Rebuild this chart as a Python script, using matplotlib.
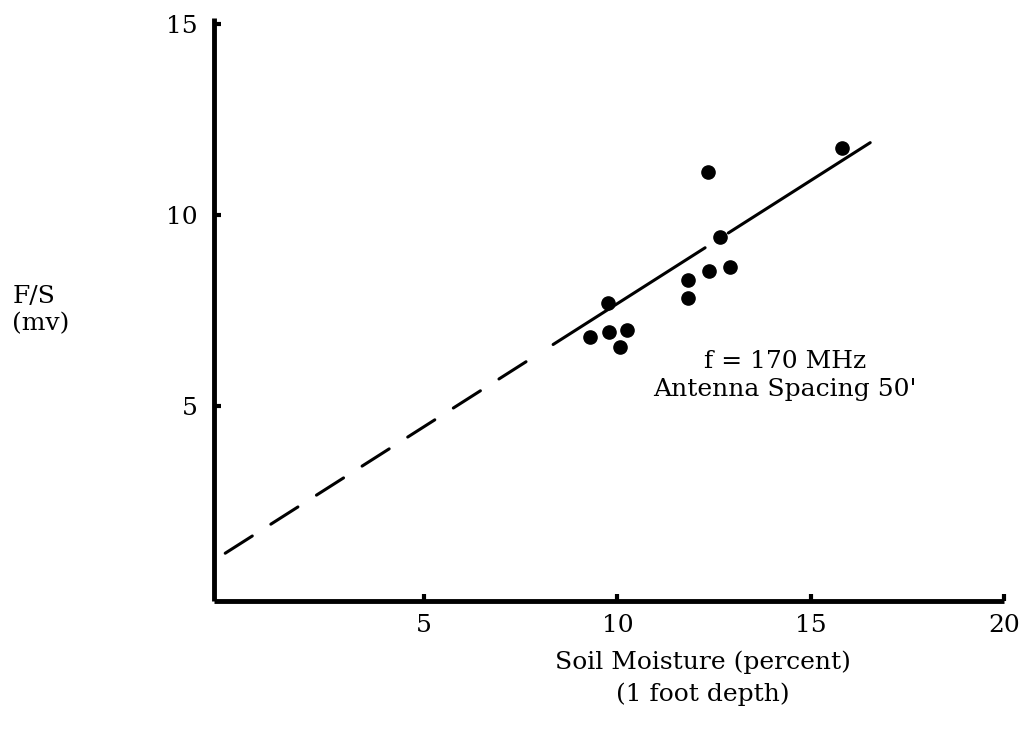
import numpy as np
import matplotlib
matplotlib.use("Agg")
import matplotlib.pyplot as plt

# soil moisture (percent) vs F/S (mv)
moisture = [9.29, 9.78, 10.24, 10.07, 9.76, 11.83, 11.82, 12.37, 12.91, 12.65, 12.35, 15.80]
fs_mv = [6.81, 6.95, 6.98, 6.54, 7.69, 8.30, 7.83, 8.52, 8.63, 9.43, 11.11, 11.76]

# fitted line, end points
fit_x = [-0.14, 16.54]
fit_y = [1.15, 11.89]
# where the line is extrapolated (dashed) and where it is drawn solid
dash_x = [-0.14, 7.84]
solid_parts = [[8.34, 12.27], [12.87, 16.54]]

x_ticks = [5, 10, 15, 20]
y_ticks = [5, 10, 15]

plt.rcParams['font.family'] = ['DejaVu Serif']

fig = plt.figure(figsize=(10.22, 7.3), dpi=100)
ax = fig.add_axes([0.2094, 0.1767, 0.7730, 0.7986])

# dashed extrapolation
ax.plot(dash_x, np.interp(dash_x, fit_x, fit_y), color='black', lw=2.2,
        dashes=(10.5, 7.2), solid_capstyle='round', dash_capstyle='round')
# solid part of the line
for part in solid_parts:
    ax.plot(part, np.interp(part, fit_x, fit_y), color='black', lw=2.2,
            solid_capstyle='round')

ax.plot(moisture, fs_mv, 'o', color='black', markersize=9.5)

ax.set_xlim(-0.43, 20)
ax.set_ylim(-0.1, 15.15)
ax.set_xticks(x_ticks)
ax.set_yticks(y_ticks)
ax.tick_params(direction='in', length=5, width=3, labelsize=18, pad=9)
ax.tick_params(axis='y', pad=12)

for side in ['top', 'right']:
    ax.spines[side].set_visible(False)
for side in ['left', 'bottom']:
    ax.spines[side].set_linewidth(3.5)
    ax.spines[side].set_capstyle('butt')

ax.text(14.33, 5.8, "f = 170 MHz\nAntenna Spacing 50'", ha='center', va='center',
        fontsize=18, linespacing=1.25)

fig.text(0.012, 0.575, "F/S\n(mv)", ha='left', va='center', fontsize=18,
         linespacing=1.2)
fig.text(0.688, 0.071, "Soil Moisture (percent)\n(1 foot depth)", ha='center',
         va='center', fontsize=18, linespacing=1.5)

fig.savefig("out.png", dpi=100)
